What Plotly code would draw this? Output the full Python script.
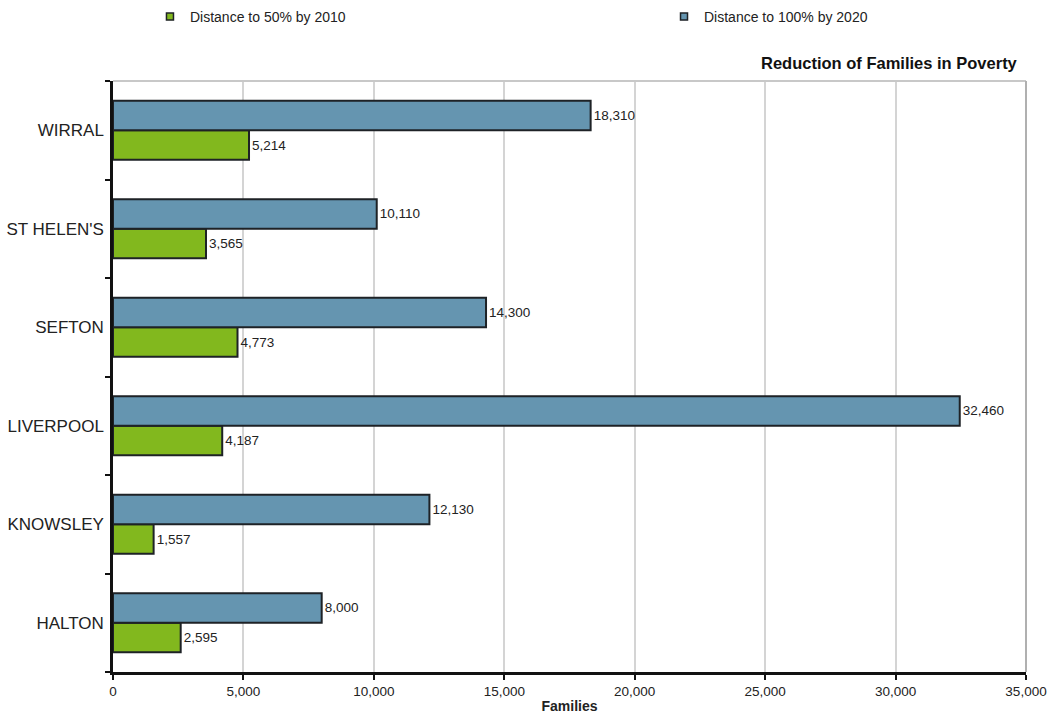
import plotly.graph_objects as go

# Merseyside districts, bottom to top
districts = ["HALTON", "KNOWSLEY", "LIVERPOOL", "SEFTON", "ST HELEN'S", "WIRRAL"]
distance_50_2010 = [2595, 1557, 4187, 4773, 3565, 5214]
distance_100_2020 = [8000, 12130, 32460, 14300, 10110, 18310]

x_ticks = [0, 5000, 10000, 15000, 20000, 25000, 30000, 35000]

GREEN = "#82b81e"
BLUE = "#6595b0"
EDGE = "#1e2226"
FONT = "Liberation Sans, Arial, sans-serif"
TEXT = "#222"

series = [
    ("Distance to 50% by 2010", distance_50_2010, GREEN, "legend"),
    ("Distance to 100% by 2020", distance_100_2020, BLUE, "legend2"),
]

fig = go.Figure()

for name, values, color, legend_id in series:
    fig.add_trace(go.Bar(
        y=districts, x=values, orientation="h", name=name,
        marker=dict(color=color, line=dict(color=EDGE, width=2)),
        text=[f"{v:,}" for v in values],
        textposition="outside", cliponaxis=False,
        textfont=dict(family=FONT, size=13.5, color=TEXT),
        showlegend=False, hoverinfo="x+y",
    ))
    # small square key for the legend
    fig.add_trace(go.Scatter(
        x=[None], y=[None], mode="markers", name=name,
        marker=dict(symbol="square", size=7, color=color, line=dict(color=EDGE, width=1.5)),
        legend=legend_id, showlegend=True,
    ))

legend_style = dict(
    orientation="h", xref="container", yref="container",
    yanchor="middle", y=0.9765, xanchor="left",
    font=dict(family=FONT, size=14, color=TEXT),
    itemwidth=30, bgcolor="rgba(0,0,0,0)",
)

fig.update_layout(
    width=1048, height=723,
    margin=dict(l=113, r=22, t=81, b=51),
    paper_bgcolor="white", plot_bgcolor="white",
    barmode="group", bargap=0.40, bargroupgap=0,
    font=dict(family=FONT, color=TEXT),
    showlegend=True,
    legend=dict(legend_style, x=0.1431),
    legend2=dict(legend_style, x=0.6336),
    xaxis=dict(
        range=[0, 35000], tickvals=x_ticks, tickformat=",",
        showgrid=True, gridcolor="#d4d4d4", gridwidth=2,
        showline=True, linecolor="#111", linewidth=2.5,
        ticks="outside", ticklen=5, tickwidth=2, tickcolor="#111",
        tickfont=dict(family=FONT, size=13.5, color=TEXT),
        title=dict(text="<b>Families</b>", font=dict(family=FONT, size=14, color=TEXT), standoff=4),
        zeroline=False, fixedrange=True, automargin=False,
    ),
    yaxis=dict(
        showline=True, linecolor="#111", linewidth=2.5,
        ticks="outside", tickson="boundaries", ticklen=5, tickwidth=2, tickcolor="#111",
        tickfont=dict(family=FONT, size=17, color=TEXT),
        ticklabelstandoff=3, fixedrange=True, automargin=False,
    ),
    annotations=[dict(
        text="<b>Reduction of Families in Poverty</b>",
        xref="paper", yref="paper", x=0.993, y=1.03,
        xanchor="right", yanchor="middle", showarrow=False,
        font=dict(family=FONT, size=16.5, color="#111"),
    )],
    shapes=[dict(
        type="line", xref="paper", yref="paper", x0=0, x1=1, y0=1, y1=1,
        line=dict(color="#c8c8c8", width=2),
    ), dict(
        type="line", xref="paper", yref="paper", x0=1, x1=1, y0=0, y1=1,
        line=dict(color="#b0b0b0", width=2),
    )],
)

fig.write_html("out.html")
